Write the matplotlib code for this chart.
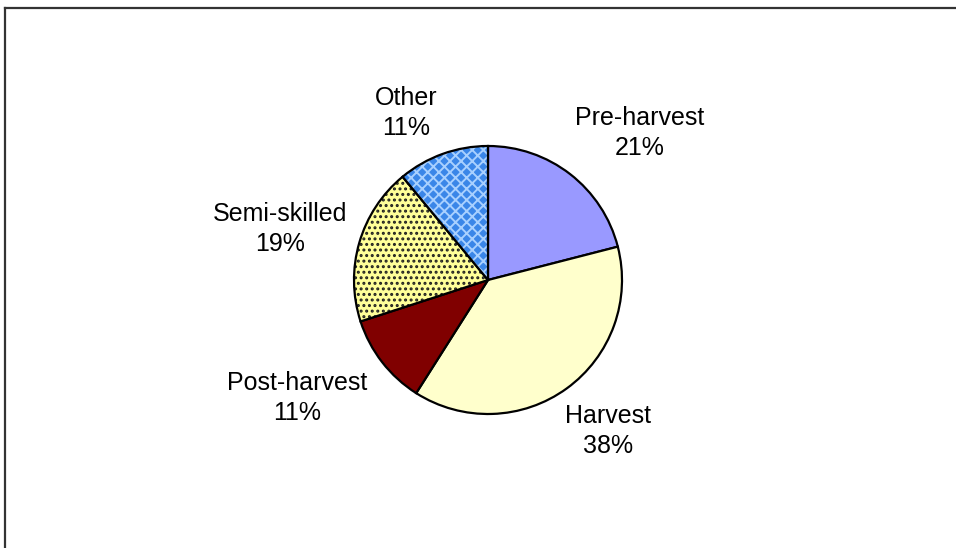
import matplotlib
matplotlib.use("Agg")
import matplotlib.pyplot as plt
from matplotlib.lines import Line2D

categories = ["Pre-harvest", "Harvest", "Post-harvest", "Semi-skilled", "Other"]
values = [21, 38, 11, 19, 11]
pct_labels = ["21%", "38%", "11%", "19%", "11%"]

colors = ["#9999FF", "#FFFFCC", "#800000", "#FFFF99", "#3A86E8"]
hatches = [None, None, None, "...", "xxx"]
hatch_colors = ["black", "black", "black", "#202020", "#A8D0FF"]
# label positions in pie-radius units (layout)
label_pos = [(1.134, 1.097), (0.896, -1.127), (-1.425, -0.881), (-1.552, 0.381), (-0.612, 1.246)]

plt.rcParams["font.family"] = ["Liberation Sans", "DejaVu Sans"]

fig = plt.figure(figsize=(9.56, 5.48), dpi=100)
ax = fig.add_axes([0, 0, 1, 1])

wedges, _ = ax.pie(values, colors=colors, startangle=90, counterclock=False,
                   radius=1.0, center=(0, 0), frame=True,
                   wedgeprops=dict(edgecolor="black", linewidth=1.6))
ax.set_xlim(-488 / 134, (956 - 488) / 134)
ax.set_ylim((280 - 548) / 134, 280 / 134)
ax.set_aspect("auto")
ax.axis("off")

for w, h, hc in zip(wedges, hatches, hatch_colors):
    if h:
        w.set_hatch(h)
        w.set_hatch_linewidth(1.4)
        w._hatch_color = matplotlib.colors.to_rgba(hc)

for cat, pct, (x, y) in zip(categories, pct_labels, label_pos):
    ax.text(x, y, f"{cat}\n{pct}", ha="center", va="center", fontsize=18,
            color="black", linespacing=1.36)

# chart frame (left and top edges visible)
fig.add_artist(Line2D([5 / 956, 5 / 956], [0, 1 - 8 / 548], transform=fig.transFigure,
                      color="#333333", linewidth=1.6))
fig.add_artist(Line2D([5 / 956, 1], [1 - 8 / 548, 1 - 8 / 548], transform=fig.transFigure,
                      color="#333333", linewidth=1.6))

fig.savefig("out.png", dpi=100)
